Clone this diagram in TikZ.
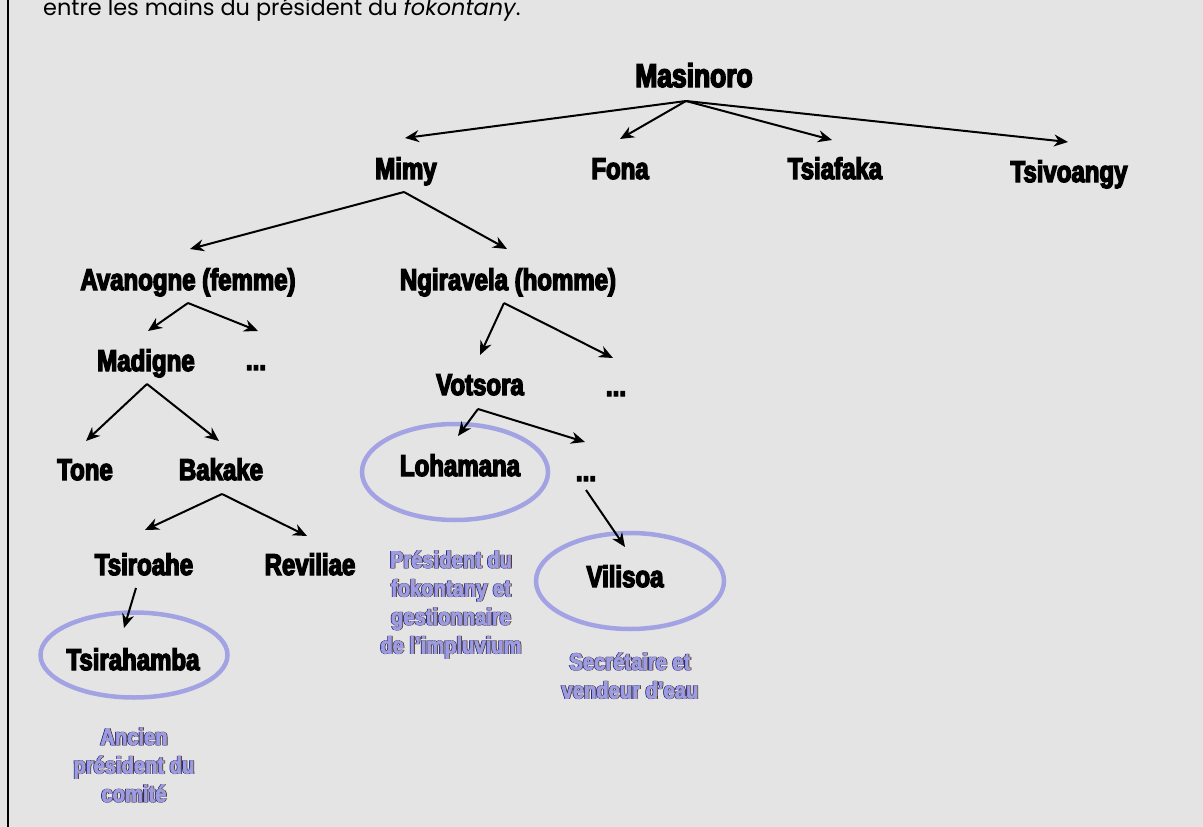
\documentclass[tikz,border=0pt]{standalone}
\usepackage{fontspec}
\usetikzlibrary{arrows.meta,shapes.geometric}
\setmainfont{Poppins}
\newfontfamily\namefont{Liberation Sans Bold}[FakeStretch=0.8,FakeBold=4.5]
\newfontfamily\notefont{Liberation Sans Bold}[FakeStretch=0.84,FakeBold=3]
\definecolor{paper}{HTML}{E4E4E4}
\definecolor{ring}{HTML}{A3A3E3}
\definecolor{notelav}{HTML}{9C9CE2}
\definecolor{notenavy}{HTML}{2A2A80}
\definecolor{notebrown}{HTML}{5A3A20}
% lavender role label with dark fringes
\newcommand\roleline[1]{\leavevmode\rlap{\kern-0.8pt\color{notenavy}#1}\rlap{\kern0.8pt\color{notebrown}#1}{\color{notelav}#1}}
\tikzset{
  person/.style={anchor=base,inner sep=0pt,font=\namefont\fontsize{30}{34}\selectfont},
  rootname/.style={person,font=\namefont\fontsize{33}{38}\selectfont},
  role/.style={anchor=base,inner sep=0pt,font=\notefont\fontsize{24}{28.5}\selectfont},
  ringed/.style={draw=ring,line width=4.5pt,ellipse,inner sep=0pt},
  kin/.style={line width=2pt,-{Stealth[length=14pt,width=12pt]}}
}
\begin{document}
\begin{tikzpicture}[x=1pt,y=-1pt]
\fill[paper] (0,0) rectangle (1203,827);
\useasboundingbox (0,0) rectangle (1203,827);
\draw[line width=2pt] (7.5,-2) -- (7.5,830);

% running text above the tree
\node[anchor=base west,inner sep=0pt,font=\fontsize{22.4}{27}\selectfont] (lead) at (43,16)
  {entre les mains du président du \textit{fokontany}.};

% generations
\node[rootname] (masinoro) at (694,87) {Masinoro};
\node[person] (mimy) at (406,179) {Mimy};
\node[person] (fona) at (620,179) {Fona};
\node[person] (tsiafaka) at (835,179) {Tsiafaka};
\node[person] (tsivoangy) at (1069,182) {Tsivoangy};
\node[person] (avanogne) at (188,290) {Avanogne (femme)};
\node[person] (ngiravela) at (508,290) {Ngiravela (homme)};
\node[person] (madigne) at (146,371) {Madigne};
\node[person] (dotsA) at (256,370) {...};
\node[person] (votsora) at (480,395) {Votsora};
\node[person] (dotsB) at (616,396) {...};
\node[person] (tone) at (85,480) {Tone};
\node[person] (bakake) at (221,480) {Bakake};
\node[person] (lohamana) at (460,476) {Lohamana};
\node[person] (dotsC) at (586,481) {...};
\node[person] (tsiroahe) at (144,575) {Tsiroahe};
\node[person] (reviliae) at (310,575) {Reviliae};
\node[person] (vilisoa) at (625,587) {Vilisoa};
\node[person] (tsirahamba) at (133,670) {Tsirahamba};

% office holders
\node[ringed,minimum width=186pt,minimum height=96pt] (lohamanaring) at (455,472) {};
\node[ringed,minimum width=188pt,minimum height=96pt] (vilisoaring) at (630,581) {};
\node[ringed,minimum width=187pt,minimum height=85pt] (tsirahambaring) at (134,655) {};

\node[role] (rolelohamana) at (451,568) {\begin{tabular}[t]{@{}c@{}}
  \roleline{Président du}\\ \roleline{fokontany et}\\ \roleline{gestionnaire}\\ \roleline{de l’impluvium}\end{tabular}};
\node[role] (rolevilisoa) at (630,670) {\begin{tabular}[t]{@{}c@{}}
  \roleline{Secrétaire et}\\ \roleline{vendeur d’eau}\end{tabular}};
\node[role] (roletsirahamba) at (134,745) {\begin{tabular}[t]{@{}c@{}}
  \roleline{Ancien}\\ \roleline{président du}\\ \roleline{comité}\end{tabular}};

% branching points below each parent
\coordinate (masinoroB) at (686,101);
\coordinate (mimyB) at (404,192);
\coordinate (avanogneB) at (188,303);
\coordinate (ngiravelaB) at (504,303);
\coordinate (madigneB) at (147,384);
\coordinate (votsoraB) at (478,409);
\coordinate (bakakeB) at (222,494);
\coordinate (tsiroaheB) at (136,588);
\coordinate (dotsCB) at (586,490);

% descent lines, each ending a little above the child's name
\draw[kin] (masinoroB) -- ([xshift=-1pt,yshift=41pt]mimy.base);
\draw[kin] (masinoroB) -- ([yshift=40pt]fona.base);
\draw[kin] (masinoroB) -- ([xshift=-3pt,yshift=39pt]tsiafaka.base);
\draw[kin] (masinoroB) -- ([xshift=-1pt,yshift=40pt]tsivoangy.base);
\draw[kin] (mimyB) -- ([xshift=2pt,yshift=41pt]avanogne.base);
\draw[kin] (mimyB) -- ([xshift=-1pt,yshift=41pt]ngiravela.base);
\draw[kin] (avanogneB) -- ([xshift=2pt,yshift=40pt]madigne.base);
\draw[kin] (avanogneB) -- ([xshift=2pt,yshift=39pt]dotsA.base);
\draw[kin] (ngiravelaB) -- ([yshift=40pt]votsora.base);
\draw[kin] (ngiravelaB) -- ([xshift=-3pt,yshift=38pt]dotsB.base);
\draw[kin] (madigneB) -- ([xshift=1pt,yshift=39pt]tone.base);
\draw[kin] (madigneB) -- ([xshift=-2pt,yshift=39pt]bakake.base);
\draw[kin] (votsoraB) -- ([xshift=-2pt,yshift=40pt]lohamana.base);
\draw[kin] (votsoraB) -- ([xshift=-1pt,yshift=39pt]dotsC.base);
\draw[kin] (bakakeB) -- ([xshift=1pt,yshift=45pt]tsiroahe.base);
\draw[kin] (bakakeB) -- ([xshift=-3pt,yshift=39pt]reviliae.base);
\draw[kin] (tsiroaheB) -- ([xshift=-9pt,yshift=42pt]tsirahamba.base);
\draw[kin] (dotsCB) -- ([yshift=40pt]vilisoa.base);
\end{tikzpicture}
\end{document}
